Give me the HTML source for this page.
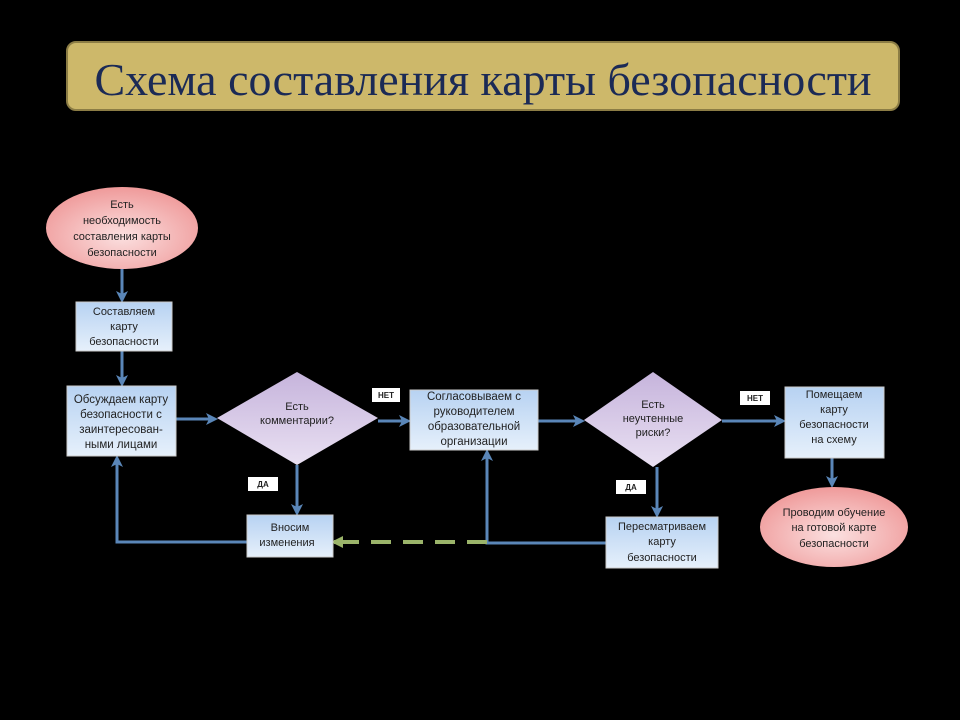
<!DOCTYPE html>
<html><head><meta charset="utf-8"><style>
html,body{margin:0;padding:0;background:#000;width:960px;height:720px;overflow:hidden}
svg text{font-family:"Liberation Sans","DejaVu Sans",sans-serif;font-size:11px;fill:#222;text-anchor:middle}
</style></head><body>
<svg width="960" height="720" xmlns="http://www.w3.org/2000/svg">
<defs>
<linearGradient id="bx" x1="0" y1="0" x2="0" y2="1"><stop offset="0" stop-color="#b7d2f2"/><stop offset="1" stop-color="#e6f0fb"/></linearGradient>
<linearGradient id="dm" x1="0" y1="0" x2="0" y2="1"><stop offset="0" stop-color="#c6b4dc"/><stop offset="1" stop-color="#e9e0f2"/></linearGradient>
<radialGradient id="el" cx="0.5" cy="0.6" r="0.6"><stop offset="0" stop-color="#fbe0e0"/><stop offset="1" stop-color="#ef9a9a"/></radialGradient>
<marker id="ah" markerWidth="12" markerHeight="12" refX="9" refY="6" orient="auto" markerUnits="userSpaceOnUse"><path d="M0,0 L12,6 L0,12 L3,6z" fill="#5a86b8"/></marker>
<marker id="gh" markerWidth="12" markerHeight="12" refX="9" refY="6" orient="auto" markerUnits="userSpaceOnUse"><path d="M0,0 L12,6 L0,12z" fill="#9bb46a"/></marker>
</defs>
<rect x="67" y="42" width="832" height="68" rx="9" fill="#cdb86a" stroke="#8c7d45" stroke-width="2"/>
<text x="483" y="95" style="font-family:'Liberation Serif',serif;font-size:46px;fill:#1b2a56">Схема составления карты безопасности</text>

<g stroke="#5a86b8" stroke-width="3" fill="none">
<line x1="122" y1="268" x2="122" y2="300" marker-end="url(#ah)"/>
<line x1="122" y1="351" x2="122" y2="384" marker-end="url(#ah)"/>
<line x1="176" y1="419" x2="215" y2="419" marker-end="url(#ah)"/>
<line x1="378" y1="421" x2="408" y2="421" marker-end="url(#ah)"/>
<line x1="538" y1="421" x2="582" y2="421" marker-end="url(#ah)"/>
<line x1="722" y1="421" x2="783" y2="421" marker-end="url(#ah)"/>
<line x1="832" y1="458" x2="832" y2="485" marker-end="url(#ah)"/>
<line x1="297" y1="465" x2="297" y2="513" marker-end="url(#ah)"/>
<line x1="657" y1="467" x2="657" y2="515" marker-end="url(#ah)"/>
<polyline points="247,542 117,542 117,458" marker-end="url(#ah)"/>
<polyline points="606,543 487,543 487,452" marker-end="url(#ah)"/>
</g>
<line x1="487" y1="542" x2="345" y2="542" stroke="#9bb46a" stroke-width="4" stroke-dasharray="20,12"/>
<line x1="345" y1="542" x2="334" y2="542" stroke="#9bb46a" stroke-width="4" marker-end="url(#gh)"/>

<ellipse cx="122" cy="228" rx="76" ry="41" fill="url(#el)"/>
<text x="122" y="208">Есть</text><text x="122" y="224">необходимость</text><text x="122" y="240">составления карты</text><text x="122" y="256">безопасности</text>

<rect x="76" y="302" width="96" height="49" fill="url(#bx)" stroke="#ccc"/>
<text x="124" y="315">Составляем</text><text x="124" y="330">карту</text><text x="124" y="345">безопасности</text>

<rect x="67" y="386" width="109" height="70" fill="url(#bx)" stroke="#ccc"/>
<text x="121" y="403" style="font-size:11.5px">Обсуждаем карту</text><text x="121" y="418" style="font-size:11.5px">безопасности с</text><text x="121" y="433" style="font-size:11.5px">заинтересован-</text><text x="121" y="448" style="font-size:11.5px">ными лицами</text>

<polygon points="297,372 378,418 297,465 217,418" fill="url(#dm)"/>
<text x="297" y="410">Есть</text><text x="297" y="424">комментарии?</text>

<rect x="372" y="388" width="28" height="14" fill="#fff"/><text x="386" y="398" style="font-size:8px;font-weight:bold">НЕТ</text>

<rect x="410" y="390" width="128" height="60" fill="url(#bx)" stroke="#ccc"/>
<text x="474" y="400" style="font-size:11.5px">Согласовываем с</text><text x="474" y="415" style="font-size:11.5px">руководителем</text><text x="474" y="430" style="font-size:11.5px">образовательной</text><text x="474" y="445" style="font-size:11.5px">организации</text>

<polygon points="653,372 722,420 653,467 584,420" fill="url(#dm)"/>
<text x="653" y="408">Есть</text><text x="653" y="422">неучтенные</text><text x="653" y="436">риски?</text>

<rect x="740" y="391" width="30" height="14" fill="#fff"/><text x="755" y="401" style="font-size:8px;font-weight:bold">НЕТ</text>

<rect x="785" y="387" width="99" height="71" fill="url(#bx)" stroke="#ccc"/>
<text x="834" y="398">Помещаем</text><text x="834" y="413">карту</text><text x="834" y="428">безопасности</text><text x="834" y="443">на схему</text>

<ellipse cx="834" cy="527" rx="74" ry="40" fill="url(#el)"/>
<text x="834" y="516">Проводим обучение</text><text x="834" y="531">на готовой карте</text><text x="834" y="547">безопасности</text>

<rect x="248" y="477" width="30" height="14" fill="#fff"/><text x="263" y="487" style="font-size:8px;font-weight:bold">ДА</text>
<rect x="616" y="480" width="30" height="14" fill="#fff"/><text x="631" y="490" style="font-size:8px;font-weight:bold">ДА</text>

<rect x="247" y="515" width="86" height="42" fill="url(#bx)" stroke="#ccc"/>
<text x="290" y="531">Вносим</text><text x="287" y="546">изменения</text>

<rect x="606" y="517" width="112" height="51" fill="url(#bx)" stroke="#ccc"/>
<text x="662" y="530">Пересматриваем</text><text x="662" y="545">карту</text><text x="662" y="561">безопасности</text>
</svg>
</body></html>
